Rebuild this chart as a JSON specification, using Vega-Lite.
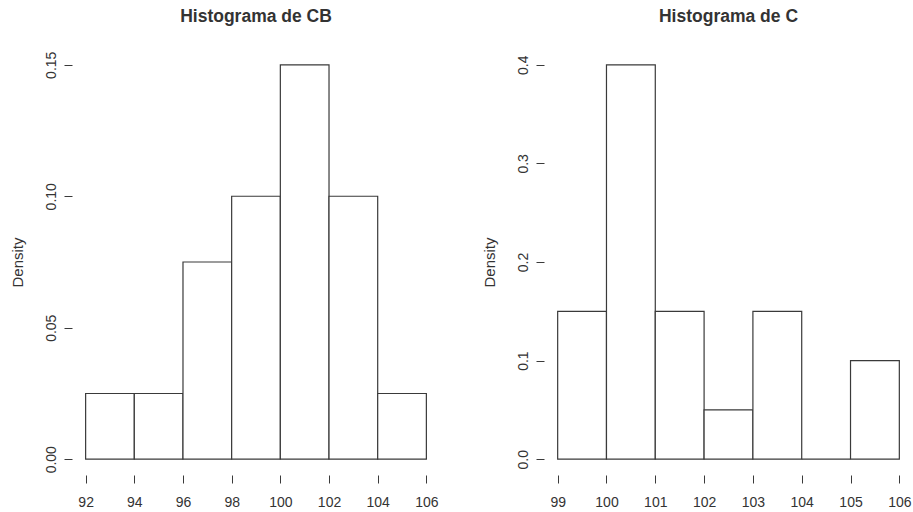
{
  "$schema": "https://vega.github.io/schema/vega-lite/v6.json",
  "background": "white",
  "padding": {"left": 10, "top": 8, "right": 0, "bottom": 0},
  "spacing": 41,
  "config": {
    "font": "Liberation Sans",
    "view": {"stroke": null},
    "title": {"fontSize": 17.5, "fontWeight": "bold", "color": "#333333", "anchor": "middle", "offset": 23.5},
    "axis": {
      "grid": false,
      "domain": false,
      "ticks": true,
      "tickSize": 8,
      "tickColor": "#3a3a3a",
      "tickWidth": 1,
      "labelFont": "Liberation Sans",
      "labelFontSize": 14,
      "labelColor": "#333333",
      "titleFont": "Liberation Sans",
      "titleFontSize": 15,
      "titleFontWeight": "normal",
      "titleColor": "#333333"
    }
  },
  "datasets": {
    "cb": [
      {"lo": 92, "hi": 94, "density": 0.025},
      {"lo": 94, "hi": 96, "density": 0.025},
      {"lo": 96, "hi": 98, "density": 0.075},
      {"lo": 98, "hi": 100, "density": 0.1},
      {"lo": 100, "hi": 102, "density": 0.15},
      {"lo": 102, "hi": 104, "density": 0.1},
      {"lo": 104, "hi": 106, "density": 0.025}
    ],
    "c": [
      {"lo": 99, "hi": 100, "density": 0.15},
      {"lo": 100, "hi": 101, "density": 0.4},
      {"lo": 101, "hi": 102, "density": 0.15},
      {"lo": 102, "hi": 103, "density": 0.05},
      {"lo": 103, "hi": 104, "density": 0.15},
      {"lo": 104, "hi": 105, "density": 0},
      {"lo": 105, "hi": 106, "density": 0.1}
    ]
  },
  "hconcat": [
    {
      "title": "Histograma de CB",
      "width": 368,
      "height": 426,
      "layer": [
        {
          "data": {"name": "cb"},
          "mark": {"type": "rect", "fill": "white", "stroke": "#3a3a3a", "strokeWidth": 1.2},
          "encoding": {
            "x": {
              "field": "lo", "type": "quantitative",
              "scale": {"domain": [91.44, 106.56], "nice": false, "zero": false},
              "axis": {"values": [92, 94, 96, 98, 100, 102, 104, 106], "title": null, "labelPadding": 12, "labelFlush": false}
            },
            "x2": {"field": "hi"},
            "y": {
              "field": "density", "type": "quantitative",
              "scale": {"domain": [-0.006, 0.156], "nice": false, "zero": false},
              "axis": {"values": [0, 0.05, 0.1, 0.15], "format": ".2f", "title": "Density", "labelAngle": -90, "labelAlign": "center", "labelBaseline": "bottom", "labelPadding": 6, "titlePadding": 19, "labelFlush": false}
            },
            "y2": {"datum": 0}
          }
        },
        {
          "mark": {"type": "rule", "stroke": "#3a3a3a", "strokeWidth": 1},
          "encoding": {"x": {"datum": 92}, "x2": {"datum": 106}, "y": {"datum": -0.006}}
        },
        {
          "mark": {"type": "rule", "stroke": "#3a3a3a", "strokeWidth": 1},
          "encoding": {"x": {"datum": 91.44}, "y": {"datum": 0}, "y2": {"datum": 0.15}}
        }
      ]
    },
    {
      "title": "Histograma de C",
      "width": 369,
      "height": 426,
      "layer": [
        {
          "data": {"name": "c"},
          "mark": {"type": "rect", "fill": "white", "stroke": "#3a3a3a", "strokeWidth": 1.2},
          "encoding": {
            "x": {
              "field": "lo", "type": "quantitative",
              "scale": {"domain": [98.72, 106.28], "nice": false, "zero": false},
              "axis": {"values": [99, 100, 101, 102, 103, 104, 105, 106], "title": null, "labelPadding": 12, "labelFlush": false}
            },
            "x2": {"field": "hi"},
            "y": {
              "field": "density", "type": "quantitative",
              "scale": {"domain": [-0.016, 0.416], "nice": false, "zero": false},
              "axis": {"values": [0, 0.1, 0.2, 0.3, 0.4], "format": ".1f", "title": "Density", "labelAngle": -90, "labelAlign": "center", "labelBaseline": "bottom", "labelPadding": 6, "titlePadding": 19, "labelFlush": false}
            },
            "y2": {"datum": 0}
          }
        },
        {
          "mark": {"type": "rule", "stroke": "#3a3a3a", "strokeWidth": 1},
          "encoding": {"x": {"datum": 99}, "x2": {"datum": 106}, "y": {"datum": -0.016}}
        },
        {
          "mark": {"type": "rule", "stroke": "#3a3a3a", "strokeWidth": 1},
          "encoding": {"x": {"datum": 98.72}, "y": {"datum": 0}, "y2": {"datum": 0.4}}
        }
      ]
    }
  ]
}
